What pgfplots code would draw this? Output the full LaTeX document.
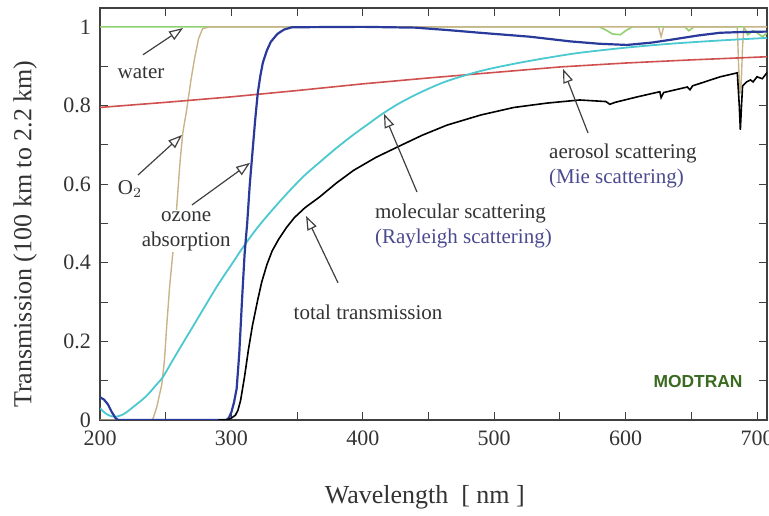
\documentclass[border=0pt]{standalone}
\usepackage{pgfplots}
\pgfplotsset{compat=1.18}
\usepackage{fontspec}
\setmainfont{Liberation Serif}
\setsansfont{Liberation Sans}
\usetikzlibrary{arrows.meta}
\definecolor{waterc}{HTML}{90D070}
\definecolor{o2c}{HTML}{C8B488}
\definecolor{ozc}{HTML}{2A3A9A}
\definecolor{rayc}{HTML}{4CC8D0}
\definecolor{aerc}{HTML}{D05050}
\definecolor{txtc}{HTML}{333333}
\definecolor{labc}{HTML}{4A4A90}
\definecolor{modc}{HTML}{3A6A20}
\begin{document}
\begin{tikzpicture}
\begin{axis}[
  name=ax,
  scale only axis,
  width=333.5pt, height=206pt,
  xmin=200, xmax=707.6, ymin=0, ymax=1.048,
  xtick={200,300,400,500,600,700},
  ytick={0,0.2,0.4,0.6,0.8,1},
  minor x tick num=1, minor y tick num=1,
  major tick length=4pt, minor tick length=4pt,
  tick align=inside,
  axis line style={color=black!75, line width=0.6pt},
  every tick/.style={color=black!75, line width=0.5pt},
  /pgf/number format/assume math mode=true,
  tick label style={font=\fontsize{11}{13}\selectfont, text=txtc},
  xticklabel style={yshift=-2pt},
  yticklabel style={xshift=-1pt},
  xlabel={Wavelength\ \ [ nm ]},
  ylabel={Transmission (100 km to 2.2 km)},
  every axis x label/.style={at={(axis description cs:0.487,-0.187)}, anchor=center, font=\fontsize{13}{15}\selectfont, text=txtc},
  every axis y label/.style={at={(axis description cs:-0.1124,0.451)}, rotate=90, anchor=center, font=\fontsize{13}{15}\selectfont, text=txtc},
  clip=true,
]
% water
\addplot[waterc, line width=0.8pt] coordinates {
(200,1.0) (580,1.0) (585,0.992) (590,0.982) (596,0.98) (600,0.99) (605,1.0)
(645,1.0) (648,0.99) (652,1.0) (690,1.0) (693,0.98) (697,0.99) (700,0.985)
(704,0.975) (708,0.985)};
% O2
\addplot[o2c, line width=0.7pt] coordinates {
(200,0) (240,0) (243,0.03) (245,0.06) (247,0.09) (249,0.15) (251,0.25) (253,0.34)
(255,0.41) (257,0.48) (259,0.57) (261,0.66) (263,0.73) (266,0.79) (269,0.86)
(272,0.92) (275,0.97) (278,0.995) (283,1.0) (625,1.0) (627,0.975) (629,1.0)
(685,1.0) (686,0.9) (687,0.83) (688,0.86) (689,0.95) (690,1.0) (708,1.0)};
% aerosol
\addplot[aerc, line width=0.8pt] coordinates {
(200,0.795) (250,0.808) (300,0.822) (350,0.838) (400,0.855) (450,0.870)
(500,0.884) (550,0.898) (600,0.908) (650,0.916) (708,0.924)};
% Rayleigh
\addplot[rayc, line width=0.9pt, smooth] coordinates {
(200,0.03) (205,0.015) (211,0.008) (218,0.015) (226,0.035) (235,0.06) (243,0.09)
(248,0.11) (255,0.15) (263,0.195) (272,0.245) (280,0.29) (290,0.345) (300,0.395)
(310,0.445) (320,0.49) (330,0.53) (342,0.575) (355,0.62) (368,0.658) (380,0.692)
(393,0.726) (405,0.755) (415,0.779) (428,0.806) (445,0.835) (464,0.862) (490,0.888) (515,0.906)
(540,0.921) (565,0.934) (600,0.947) (634,0.957) (670,0.965) (708,0.972)};
% ozone
\addplot[ozc, line width=1.1pt] coordinates {
(200,0.058) (203,0.052) (206,0.04) (209,0.02) (212,0.004) (214,0) (296,0)
(298,0.005) (300,0.02) (302,0.045) (304,0.08) (306,0.17) (308,0.3) (310,0.42)
(312,0.5) (314,0.6) (316,0.68) (318,0.76) (320,0.83) (322,0.875) (324,0.91)
(327,0.94) (330,0.962) (335,0.982) (340,0.993) (346,0.999) (400,1.0) (440,0.998)
(464,0.992) (489,0.985) (527,0.975) (558,0.963) (580,0.957) (601,0.954)
(620,0.96) (634,0.967) (655,0.978) (672,0.985) (690,0.987) (708,0.988)};
% total
\addplot[black, line width=0.8pt] coordinates {
(290,0) (297,0) (300,0.005) (303,0.012) (305,0.025) (307,0.05) (310,0.11)
(313,0.18) (316,0.24) (320,0.305) (323,0.35) (327,0.395) (331,0.43) (336,0.46)
(342,0.49) (348,0.515) (356,0.54) (367,0.567) (380,0.603) (393,0.635)
(410,0.668) (428,0.697) (445,0.724) (464,0.75) (490,0.776) (515,0.795)
(540,0.806) (565,0.814) (585,0.81) (588,0.803) (592,0.808) (609,0.822)
(626,0.835) (627,0.82) (629,0.833) (647,0.847) (649,0.84) (651,0.85)
(672,0.873) (685,0.883) (686.5,0.80) (687.3,0.738) (688.2,0.80) (689,0.85)
(692,0.86) (695,0.865) (697,0.86) (700,0.873) (704,0.868) (708,0.885)};
% annotations
\tikzset{ann/.style={draw=black!75, line width=0.6pt, -{Triangle[open, fill=white, length=7pt, width=5pt]}}}
\draw[ann] (axis cs:232.7,0.929) -- (axis cs:263.2,0.997);
\draw[ann] (axis cs:228.9,0.623) -- (axis cs:262.4,0.725);
\draw[ann] (axis cs:270.0,0.547) -- (axis cs:314.2,0.654);
\draw[ann] (axis cs:441.2,0.580) -- (axis cs:416.1,0.779);
\draw[ann] (axis cs:381.1,0.349) -- (axis cs:356.8,0.519);
\draw[ann] (axis cs:571.4,0.730) -- (axis cs:552.4,0.893);
\tikzset{lab/.style={font=\fontsize{10.5}{12.5}\selectfont, text=txtc, inner sep=1pt}}
\node[lab] at (axis cs:231.2,0.883) {water};
\node[lab] at (axis cs:222.8,0.588) {O$_2$};
\node[lab, align=center, fill=white, inner sep=0.5pt] at (axis cs:265.6,0.481) {ozone\\absorption};
\node[lab, align=left, anchor=west] at (axis cs:407.5,0.494) {molecular scattering\\\textcolor{labc}{(Rayleigh scattering)}};
\node[lab] at (axis cs:404,0.275) {total transmission};
\node[lab, align=left, anchor=west] at (axis cs:540,0.646) {aerosol scattering\\\textcolor{labc}{(Mie scattering)}};
\node[font=\sffamily\bfseries\fontsize{8.7}{10}\selectfont, text=modc] at (axis cs:655.1,0.099) {MODTRAN};
\end{axis}
\pgfresetboundingbox
\path[use as bounding box] ([shift={(-50pt,-48pt)}]ax.south west) rectangle ([shift={(1pt,4pt)}]ax.north east);
\end{tikzpicture}
\end{document}
